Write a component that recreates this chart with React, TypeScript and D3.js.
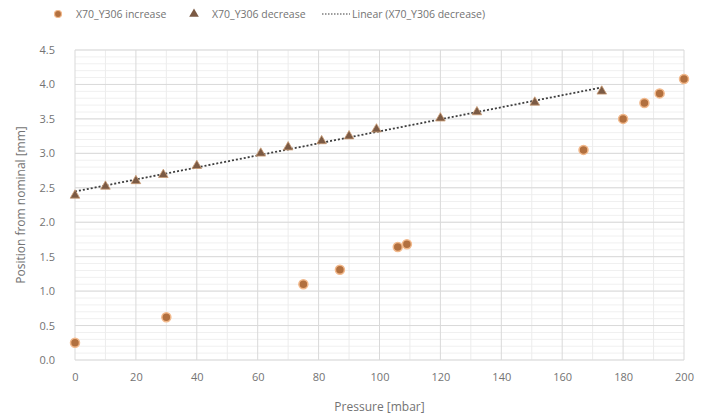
import { useEffect, useRef } from "react"
import * as d3 from "d3"

// X70_Y306 increase
const incPressure = [0, 30, 75, 87, 106, 109, 167, 180, 187, 192, 200]
const incPosition = [0.25, 0.62, 1.1, 1.31, 1.64, 1.68, 3.05, 3.5, 3.73, 3.87, 4.08]

// X70_Y306 decrease
const decPressure = [0, 10, 20, 29, 40, 61, 70, 81, 90, 99, 120, 132, 151, 173]
const decPosition = [2.39, 2.52, 2.6, 2.69, 2.82, 3.0, 3.09, 3.18, 3.25, 3.35, 3.51, 3.6, 3.74, 3.9]

const xTicks = [0, 20, 40, 60, 80, 100, 120, 140, 160, 180, 200]
const yTicks = [0, 0.5, 1, 1.5, 2, 2.5, 3, 3.5, 4, 4.5]
const legendLabels = ["X70_Y306 increase", "X70_Y306 decrease", "Linear (X70_Y306 decrease)"]

export default function App() {
    const ref = useRef<SVGSVGElement>(null)

    useEffect(() => {
        const width = 706, height = 415
        const margin = { top: 50, left: 75, right: 22, bottom: 55 }
        const w = width - margin.left - margin.right
        const h = height - margin.top - margin.bottom

        const svg = d3.select(ref.current)
        svg.selectAll("*").remove()

        const font = "'Segoe UI', 'Open Sans', 'DejaVu Sans', sans-serif"
        const textColor = "#737373"

        const g = svg.append("g").attr("transform", `translate(${margin.left}, ${margin.top})`)

        const xScale = d3.scaleLinear().domain([0, 200]).range([0, w])
        const yScale = d3.scaleLinear().domain([0, 4.5]).range([h, 0])

        // minor grid
        g.append("g")
            .selectAll("line")
            .data(d3.range(0, 4.5001, 0.1))
            .join("line")
            .attr("x1", 0).attr("x2", w)
            .attr("y1", (d) => yScale(d)).attr("y2", (d) => yScale(d))
            .attr("stroke", "#f0f0f0")
        g.append("g")
            .selectAll("line")
            .data(d3.range(10, 200, 20))
            .join("line")
            .attr("y1", 0).attr("y2", h)
            .attr("x1", (d) => xScale(d)).attr("x2", (d) => xScale(d))
            .attr("stroke", "#ececec")

        // major grid
        g.append("g")
            .selectAll("line")
            .data(yTicks)
            .join("line")
            .attr("x1", 0).attr("x2", w)
            .attr("y1", (d) => yScale(d)).attr("y2", (d) => yScale(d))
            .attr("stroke", "#d9d9d9")
        g.append("g")
            .selectAll("line")
            .data(xTicks)
            .join("line")
            .attr("y1", 0).attr("y2", h)
            .attr("x1", (d) => xScale(d)).attr("x2", (d) => xScale(d))
            .attr("stroke", "#d9d9d9")

        // axes
        const xAxis = d3.axisBottom(xScale).tickValues(xTicks).tickSize(0).tickPadding(13)
        g.append("g")
            .attr("transform", `translate(0, ${h})`)
            .call(xAxis)
            .call((a) => a.select(".domain").remove())
            .selectAll("text")
            .style("font-family", font)
            .style("font-size", "11px")
            .attr("fill", textColor)

        const yAxis = d3.axisLeft(yScale).tickValues(yTicks).tickSize(0).tickPadding(20)
            .tickFormat((d) => d3.format(".1f")(d as number))
        g.append("g")
            .call(yAxis)
            .call((a) => a.select(".domain").remove())
            .selectAll("text")
            .style("font-family", font)
            .style("font-size", "11px")
            .attr("fill", textColor)

        g.append("text")
            .attr("x", w / 2)
            .attr("y", h + 51)
            .attr("text-anchor", "middle")
            .style("font-family", font)
            .style("font-size", "12px")
            .attr("fill", textColor)
            .text("Pressure [mbar]")

        g.append("text")
            .attr("transform", `translate(${-50}, ${h / 2}) rotate(-90)`)
            .attr("text-anchor", "middle")
            .style("font-family", font)
            .style("font-size", "12px")
            .attr("fill", textColor)
            .text("Position from nominal [mm]")

        // linear trend of decrease
        const mx = d3.mean(decPressure) as number
        const my = d3.mean(decPosition) as number
        let sxy = 0, sxx = 0
        decPressure.forEach((x, i) => {
            sxy += (x - mx) * (decPosition[i] - my)
            sxx += (x - mx) * (x - mx)
        })
        const slope = sxy / sxx
        const intercept = my - slope * mx
        const x0 = d3.min(decPressure) as number
        const x1 = d3.max(decPressure) as number
        const trend = d3.line<number>()
            .x((d) => xScale(d))
            .y((d) => yScale(intercept + slope * d))
        g.append("path")
            .attr("d", trend([x0, x1]))
            .attr("fill", "none")
            .attr("stroke", "#3d3d3d")
            .attr("stroke-width", 1.8)
            .attr("stroke-dasharray", "2,2")

        // decrease triangles
        const tri = d3.symbol().type(d3.symbolTriangle).size(40)
        g.append("g")
            .selectAll("path")
            .data(decPressure.map((x, i) => [x, decPosition[i]]))
            .join("path")
            .attr("d", tri())
            .attr("transform", (d) => `translate(${xScale(d[0])}, ${yScale(d[1])})`)
            .attr("fill", "#7b5a44")
            .attr("stroke", "#c99a73")
            .attr("stroke-width", 0.8)

        // increase circles
        g.append("g")
            .selectAll("circle")
            .data(incPressure.map((x, i) => [x, incPosition[i]]))
            .join("circle")
            .attr("cx", (d) => xScale(d[0]))
            .attr("cy", (d) => yScale(d[1]))
            .attr("r", 4.5)
            .attr("fill", "#b2703f")
            .attr("stroke", "#f2b98c")
            .attr("stroke-width", 1.5)

        // legend
        const leg = svg.append("g").attr("transform", "translate(0, 14)")
        leg.append("circle").attr("cx", 58).attr("cy", 0).attr("r", 3.5)
            .attr("fill", "#b2703f").attr("stroke", "#f2b98c").attr("stroke-width", 1.2)
        leg.append("path").attr("d", tri()).attr("transform", "translate(194, 0)")
            .attr("fill", "#7b5a44")
        leg.append("line").attr("x1", 322).attr("x2", 350).attr("y1", 0).attr("y2", 0)
            .attr("stroke", "#3d3d3d").attr("stroke-width", 1.2).attr("stroke-dasharray", "1.5,1.5")
        const lx = [76, 212, 352]
        leg.selectAll("text.l")
            .data(legendLabels)
            .join("text")
            .attr("class", "l")
            .attr("x", (_, i) => lx[i])
            .attr("y", 4)
            .style("font-family", font)
            .style("font-size", "10.5px")
            .attr("fill", textColor)
            .text((d) => d)
    }, [])

    return (
        <svg ref={ref} width={706} height={415}
            style={{ position: "absolute", left: 0, top: 0, background: "#fff" }} />
    )
}
